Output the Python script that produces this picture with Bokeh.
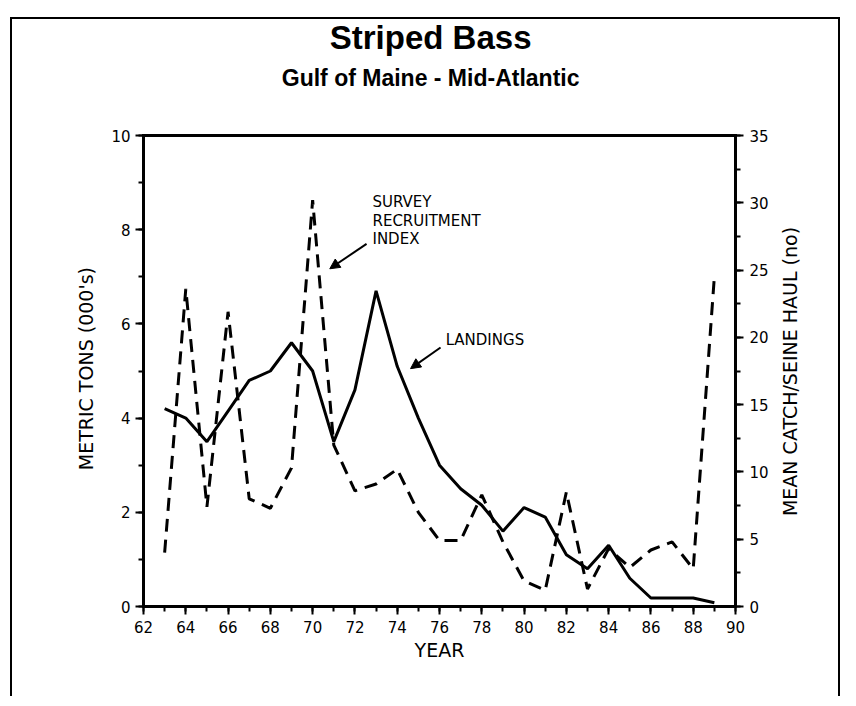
import math
from bokeh.plotting import figure
from bokeh.models import (Range1d, LinearAxis, SingleIntervalTicker, FixedTicker, Label,
                          Arrow, NormalHead)
from bokeh.embed import file_html
from bokeh.resources import INLINE

# ---- data ----
years = list(range(63, 90))
landings = [4.2, 4.0, 3.5, 4.15, 4.8, 5.0, 5.6, 5.0, 3.5, 4.6,
            6.7, 5.1, 4.0, 3.0, 2.5, 2.15, 1.6, 2.1, 1.9, 1.1,
            0.8, 1.3, 0.6, 0.18, 0.18, 0.18, 0.08]
survey = [4.0, 23.6, 7.4, 21.9, 8.0, 7.3, 10.3, 30.2, 12.0, 8.6,
          9.1, 10.2, 7.0, 4.9, 4.9, 8.3, 4.8, 1.9, 1.2, 8.5,
          1.3, 4.3, 2.9, 4.2, 4.8, 2.8, 24.5]

title_text = "Striped Bass"
subtitle_text = "Gulf of Maine - Mid-Atlantic"
x_label = "YEAR"
y_label = "METRIC TONS (000's)"
y2_label = "MEAN CATCH/SEINE HAUL (no)"
survey_note = ["SURVEY", "RECRUITMENT", "INDEX"]
landings_note = "LANDINGS"

x_min, x_max = 62, 90
y_min, y_max = 0, 10
y2_min, y2_max = 0, 35

FONT = "DejaVu Sans"
TFONT = "Liberation Sans"

# canvas is 830 x 679 px; the axes box sits at 131..723 px (x) and 116..587 px (y)
W, H = 830, 679
box_l, box_r, box_t, box_b = 131, 723, 116, 587
xs = (x_max - x_min) / (box_r - box_l)
ys = (y_max - y_min) / (box_b - box_t)
xr = Range1d(x_min - box_l * xs, x_max + (W - box_r) * xs)
yr = Range1d(y_min - (H - box_b) * ys, y_max + box_t * ys)
k = (y2_max - y2_min) / (y_max - y_min)

p = figure(width=W, height=H, x_range=xr, y_range=yr,
           output_backend="svg", toolbar_location=None,
           x_axis_location=None, y_axis_location=None,
           min_border=0, min_border_left=0, min_border_right=0,
           min_border_top=0, min_border_bottom=0)
p.extra_y_ranges = {"survey": Range1d(yr.start * k, yr.end * k)}
p.xgrid.visible = False
p.ygrid.visible = False
p.outline_line_color = None
p.background_fill_color = "white"
p.border_fill_color = "white"
p.styles = {"margin-left": "10px", "margin-top": "17px",
            "border-left": "2px solid black", "border-top": "2px solid black",
            "border-right": "2px solid black"}

xaxis = LinearAxis(fixed_location=y_min, bounds=(x_min, x_max),
                   ticker=SingleIntervalTicker(interval=2, num_minor_ticks=2))
yaxis = LinearAxis(fixed_location=x_min, bounds=(y_min, y_max),
                   ticker=SingleIntervalTicker(interval=2, num_minor_ticks=2))
y2axis = LinearAxis(fixed_location=x_max, bounds=(y2_min, y2_max), y_range_name="survey",
                    ticker=SingleIntervalTicker(interval=5, num_minor_ticks=2))
topaxis = LinearAxis(fixed_location=y_max, bounds=(x_min, x_max),
                     ticker=FixedTicker(ticks=[]))
p.add_layout(xaxis, "below")
p.add_layout(yaxis, "left")
p.add_layout(y2axis, "right")
p.add_layout(topaxis, "above")

for ax in [xaxis, yaxis, y2axis, topaxis]:
    ax.axis_line_width = 3
    ax.axis_line_color = "black"
    ax.axis_line_cap = "square"
    ax.major_tick_line_width = 2
    ax.minor_tick_line_width = 2
    ax.major_tick_out = 8
    ax.major_tick_in = 0
    ax.minor_tick_out = 5
    ax.minor_tick_in = 0
    ax.major_label_text_font = FONT
    ax.major_label_text_font_size = "15px"
    ax.major_label_text_color = "black"
topaxis.major_tick_out = 0
topaxis.minor_tick_out = 0

xaxis.major_label_standoff = 6
yaxis.major_label_standoff = 5
y2axis.major_label_standoff = 6

p.line(years, landings, line_color="black", line_width=3)
p.line(years, survey, line_color="black", line_width=3, line_dash="13 8",
       y_range_name="survey")

# titles and axis labels
p.add_layout(Label(x=75.58, y=12.08, text=title_text, text_align="center",
                   text_baseline="alphabetic", text_font=TFONT, text_font_size="33px",
                   text_font_style="bold", text_color="black"))
p.add_layout(Label(x=75.58, y=11.23, text=subtitle_text, text_align="center",
                   text_baseline="alphabetic", text_font=TFONT, text_font_size="23px",
                   text_font_style="bold", text_color="black"))
p.add_layout(Label(x=76.0, y=-0.93, text=x_label, text_align="center",
                   text_baseline="middle", text_font=FONT, text_font_size="19px",
                   text_color="black"))
p.add_layout(Label(x=59.26, y=5.05, text=y_label, text_align="center", angle=math.pi / 2,
                   text_baseline="middle", text_font=FONT, text_font_size="19px",
                   text_color="black"))
p.add_layout(Label(x=92.6, y=4.99, text=y2_label, text_align="center", angle=math.pi / 2,
                   text_baseline="middle", text_font=FONT, text_font_size="19px",
                   text_color="black"))

# annotations
for i, t in enumerate(survey_note):
    p.add_layout(Label(x=72.83, y=8.77 - i * 0.39, text=t, text_baseline="top",
                       text_font=FONT, text_font_size="15px", text_color="black"))
p.add_layout(Label(x=76.29, y=5.65, text=landings_note, text_baseline="middle",
                   text_font=FONT, text_font_size="15px", text_color="black"))

p.add_layout(Arrow(end=NormalHead(size=10, fill_color="black", line_color="black"),
                   x_start=72.55, y_start=7.70, x_end=70.81, y_end=7.17,
                   line_width=2, line_color="black"))
p.add_layout(Arrow(end=NormalHead(size=10, fill_color="black", line_color="black"),
                   x_start=76.05, y_start=5.50, x_end=74.63, y_end=5.05,
                   line_width=2, line_color="black"))

open("out.html", "w").write(file_html(p, INLINE))
